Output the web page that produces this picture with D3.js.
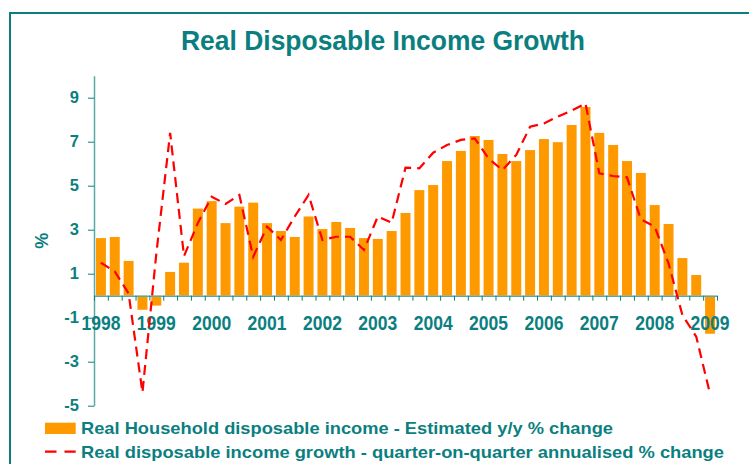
<!DOCTYPE html>
<html><head><meta charset="utf-8">
<script src="https://cdn.jsdelivr.net/npm/d3@7"></script>
<style>html,body{margin:0;padding:0;background:#fff;}svg{display:block;font-family:"Liberation Sans",Arial,sans-serif;font-weight:bold;}</style>
</head><body><svg id="c" width="749" height="464"></svg>
<script>
const years = ["1998","1999","2000","2001","2002","2003","2004","2005","2006","2007","2008","2009"];
const quarters = [];
years.forEach(y => [1,2,3,4].forEach(q => { if (quarters.length < 45) quarters.push(y + " Q" + q); }));
const barValues = [2.62,2.67,1.58,-0.64,-0.45,1.08,1.5,3.96,4.3,3.3,4.05,4.23,3.3,2.94,2.67,3.6,3.03,3.35,3.08,2.62,2.58,2.94,3.76,4.8,5.03,6.12,6.58,7.26,7.08,6.44,6.12,6.62,7.12,6.98,7.76,8.58,7.4,6.85,6.12,5.58,4.12,3.26,1.71,0.94,-1.73];
const lineValues = [1.5,1.1,0.1,-4.4,1.9,7.4,1.8,3.3,4.5,4.17,4.58,1.77,3.14,2.53,3.6,4.58,2.53,2.68,2.68,2.08,3.6,3.32,5.82,5.79,6.5,6.85,7.08,7.15,6.24,5.71,6.4,7.68,7.83,8.14,8.41,8.74,5.56,5.44,5.38,3.47,3.14,1.47,-0.88,-1.86,-4.47];
const yTicks = [-5,-3,-1,1,3,5,7,9];
const titleText = "Real Disposable Income Growth";
const legendLabels = ["Real Household disposable income - Estimated y/y % change","Real disposable income growth - quarter-on-quarter annualised % change"];

const teal = "#0b7f7f", orange = "#ff9900", red = "#ff0000";
const svg = d3.select("#c");

// frame
svg.append("path").attr("d","M10,470 L10,13 L760,13").attr("fill","none").attr("stroke",teal).attr("stroke-width",2);

const x = d3.scaleBand().domain(quarters).range([94,717]).paddingInner(0.28).paddingOuter(0.14);
const xEdge = d3.scaleLinear().domain([0,quarters.length]).range([94,717]);
const y = d3.scaleLinear().domain([-5,10]).range([405.7,75.7]);

// title
svg.append("text").attr("x",383).attr("y",50).attr("text-anchor","middle").attr("fill",teal)
  .attr("font-size",28).attr("textLength",404).attr("lengthAdjust","spacingAndGlyphs").text(titleText);

// bars
svg.append("g").selectAll("rect").data(barValues).join("rect")
  .attr("x",(d,i)=>x(quarters[i])).attr("width",x.bandwidth())
  .attr("y",d=>y(Math.max(0,d))).attr("height",d=>Math.abs(y(d)-y(0)))
  .attr("fill",orange);

// y axis
const yAxis = svg.append("g").attr("transform","translate(94,0)")
  .call(d3.axisLeft(y).tickValues(yTicks).tickSize(6).tickSizeOuter(0).tickPadding(9).tickFormat(d=>String(d)));
yAxis.select(".domain").attr("stroke","#5aa9a9").attr("stroke-width",1.5);
yAxis.selectAll(".tick line").attr("stroke",teal);
yAxis.selectAll(".tick text").attr("fill",teal).attr("font-size",16.5).attr("font-family","Liberation Sans, Arial, sans-serif").attr("font-weight","bold");

// x axis at zero
const xAxis = svg.append("g").attr("transform",`translate(0,${y(0)})`)
  .call(d3.axisBottom(xEdge).tickValues(d3.range(0,quarters.length+1)).tickSize(5).tickSizeOuter(0).tickFormat(""));
xAxis.select(".domain").attr("stroke","#5aa9a9").attr("stroke-width",1.5);
xAxis.selectAll(".tick line").attr("stroke",teal);

// year labels at Q1
svg.append("g").selectAll("text").data(years).join("text")
  .attr("x",d=>x(d+" Q1")+x.bandwidth()/2).attr("y",329.5)
  .attr("text-anchor","middle").attr("fill",teal).attr("font-size",19.5)
  .attr("textLength",39).attr("lengthAdjust","spacingAndGlyphs").text(d=>d);

// line
const line = d3.line().x((d,i)=>x(quarters[i])+x.bandwidth()/2).y(d=>y(d));
svg.append("path").datum(lineValues).attr("d",line).attr("fill","none")
  .attr("stroke",red).attr("stroke-width",2.2).attr("stroke-dasharray","10,6");

// % label
svg.append("text").attr("transform",`translate(48,${y(2.5)}) rotate(-90)`).attr("text-anchor","middle")
  .attr("fill",teal).attr("font-size",18).text("%");

// legend
svg.append("rect").attr("x",45).attr("y",422.7).attr("width",30.7).attr("height",11.3).attr("fill",orange);
svg.append("path").attr("d","M45,451.7 L75.7,451.7").attr("stroke",red).attr("stroke-width",2.2).attr("stroke-dasharray","11.5,8");
svg.append("text").attr("x",81).attr("y",434).attr("fill",teal).attr("font-size",17)
  .attr("textLength",532).attr("lengthAdjust","spacingAndGlyphs").text(legendLabels[0]);
svg.append("text").attr("x",81).attr("y",457.5).attr("fill",teal).attr("font-size",17)
  .attr("textLength",643).attr("lengthAdjust","spacingAndGlyphs").text(legendLabels[1]);
</script></body></html>
